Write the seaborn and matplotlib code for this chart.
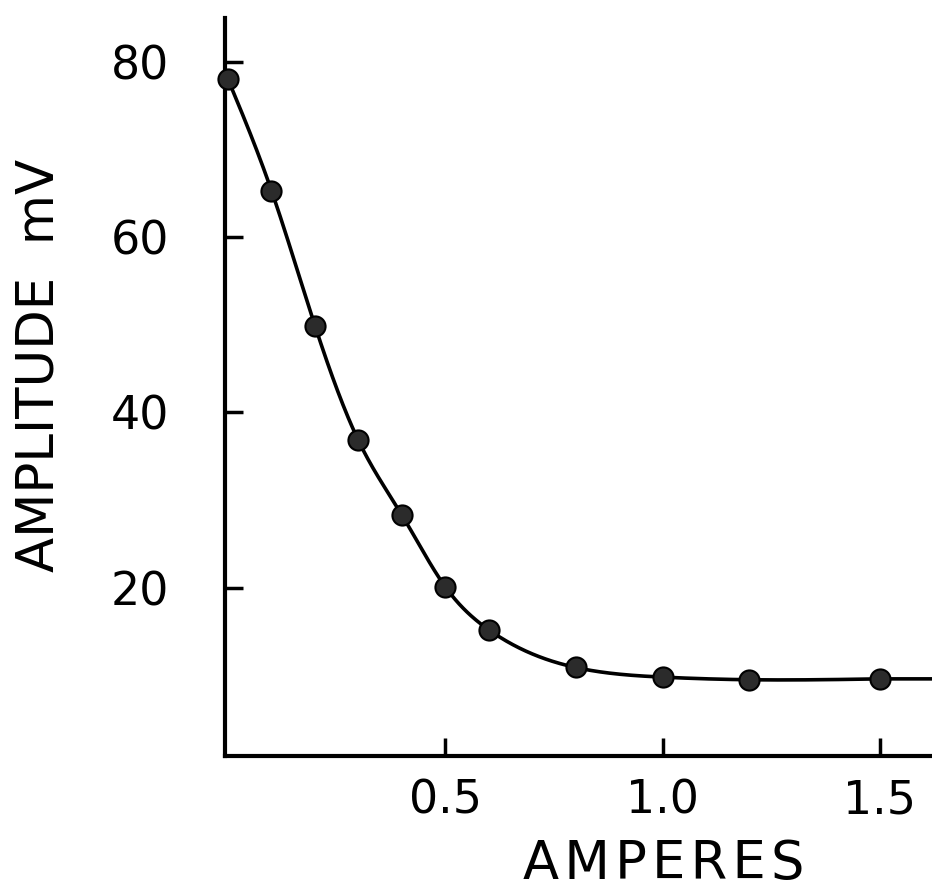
import numpy as np
import pandas as pd
import matplotlib
matplotlib.use("Agg")
import matplotlib.pyplot as plt
import seaborn as sns

# Stimulus current (A) and response amplitude (mV)
amperes = [0.0, 0.1, 0.2, 0.3, 0.4, 0.5, 0.6, 0.8, 1.0, 1.2, 1.5]
amplitude_mv = [78.0, 65.3, 49.9, 36.8, 28.3, 20.1, 15.2, 10.9, 9.8, 9.5, 9.6]

x_ticks = [0.5, 1.0, 1.5]
x_tick_labels = ["0.5", "1.0", "1.5"]
y_ticks = [20, 40, 60, 80]
y_tick_labels = ["20", "40", "60", "80"]


def natural_spline(x, y, xs):
    """Natural cubic spline through the measured points, for a smooth curve."""
    x = np.asarray(x, float)
    y = np.asarray(y, float)
    n = len(x)
    h = np.diff(x)
    A = np.zeros((n, n))
    b = np.zeros(n)
    A[0, 0] = A[-1, -1] = 1.0
    for i in range(1, n - 1):
        A[i, i - 1] = h[i - 1]
        A[i, i] = 2 * (h[i - 1] + h[i])
        A[i, i + 1] = h[i]
        b[i] = 6 * ((y[i + 1] - y[i]) / h[i] - (y[i] - y[i - 1]) / h[i - 1])
    M = np.linalg.solve(A, b)
    idx = np.clip(np.searchsorted(x, xs) - 1, 0, n - 2)
    hi = h[idx]
    a = x[idx + 1] - xs
    c = xs - x[idx]
    return (M[idx] * a**3 / (6 * hi) + M[idx + 1] * c**3 / (6 * hi)
            + (y[idx] / hi - M[idx] * hi / 6) * a
            + (y[idx + 1] / hi - M[idx + 1] * hi / 6) * c)


x_lo, x_hi = -0.007, 1.62
y_lo, y_hi = 0.8, 85.0

xs = np.linspace(amperes[0], amperes[-1], 500)
ys = natural_spline(amperes, amplitude_mv, xs)
# carry the flat tail on to the end of the axis
xs = np.append(xs, x_hi)
ys = np.append(ys, amplitude_mv[-1])

points = pd.DataFrame({"amperes": amperes, "amplitude": amplitude_mv})
curve = pd.DataFrame({"amperes": xs, "amplitude": ys})

sns.set_theme(style="white")
plt.rcParams["font.family"] = ["DejaVu Sans"]

fig = plt.figure(figsize=(9.32, 8.91), dpi=100)
ax = fig.add_axes([225 / 932, (891 - 756) / 891, (932 - 225) / 932, (756 - 18) / 891])

sns.lineplot(data=curve, x="amperes", y="amplitude", ax=ax, color="black",
             linewidth=2.6, sort=False, estimator=None)
sns.scatterplot(data=points, x="amperes", y="amplitude", ax=ax, s=210,
                color="#2b2b2b", edgecolor="black", linewidth=1.5,
                zorder=5, clip_on=False)

ax.set_xlim(x_lo, x_hi)
ax.set_ylim(y_lo, y_hi)

for side in ["top", "right"]:
    ax.spines[side].set_visible(False)
for side in ["left", "bottom"]:
    ax.spines[side].set_linewidth(3.0)
    ax.spines[side].set_color("black")

ax.set_xticks(x_ticks)
ax.set_xticklabels(x_tick_labels)
ax.set_yticks(y_ticks)
ax.set_yticklabels(y_tick_labels)
ax.tick_params(axis="both", which="major", direction="in", length=13, width=2.5,
               colors="black", labelsize=33, bottom=True, left=True)
ax.tick_params(axis="x", pad=16)
ax.tick_params(axis="y", pad=40)

ax.set_xlabel("")
ax.set_ylabel("")
# slightly letter-spaced axis title
fig.text(664 / 932, 1 - 864 / 891, "\u200a".join("AMPERES"), ha="center",
         va="center", fontsize=38, color="black")
fig.text(40 / 932, 1 - 365 / 891, "AMPLITUDE  mV", ha="center", va="center",
         rotation=90, fontsize=37, color="black")

fig.savefig("out.png", dpi=100, facecolor="white")
